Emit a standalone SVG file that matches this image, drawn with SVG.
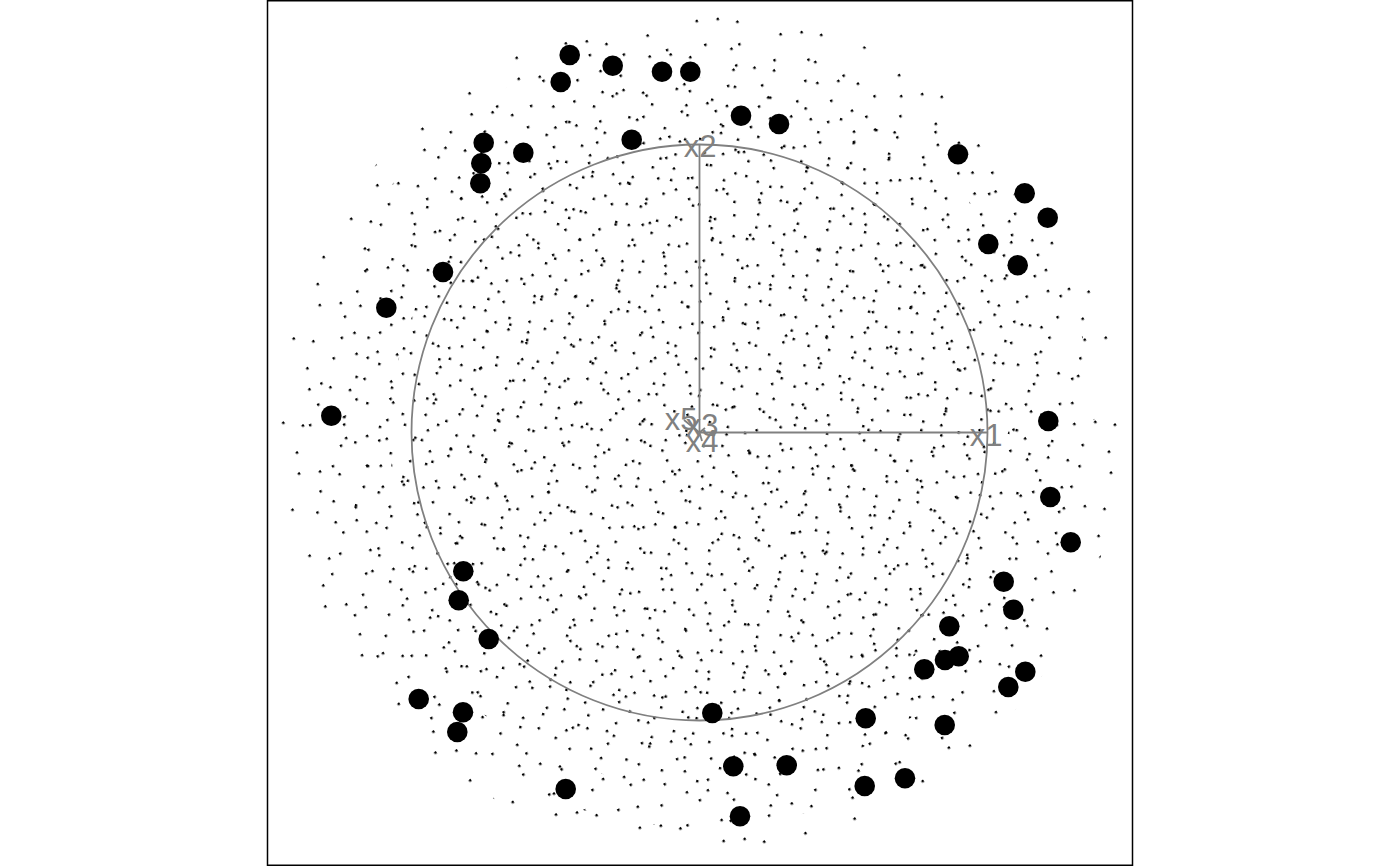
<svg xmlns="http://www.w3.org/2000/svg" width="1400" height="866" viewBox="0 0 1400 866">
<style>
.ax{stroke:#808080;stroke-width:1.8;fill:none}
.lb{font-family:"Liberation Sans",Arial,sans-serif;font-size:31px;fill:#808080;text-anchor:middle}
.big{fill:#000}
</style>
<defs>
<pattern id="pA" width="37" height="41" patternUnits="userSpaceOnUse" patternTransform="rotate(17)">
<rect x="6" y="9" width="2.4" height="2.4"/><rect x="24" y="31" width="2.4" height="2.4"/>
</pattern>
<pattern id="pB" width="53" height="47" patternUnits="userSpaceOnUse" patternTransform="rotate(-29)">
<rect x="11" y="4" width="2.4" height="2.4"/><rect x="41" y="20" width="2.4" height="2.4"/><rect x="28" y="37" width="2.4" height="2.4"/>
</pattern>
<pattern id="pC" width="61" height="59" patternUnits="userSpaceOnUse" patternTransform="rotate(53)">
<rect x="8" y="45" width="2.4" height="2.4"/><rect x="33" y="13" width="2.4" height="2.4"/><rect x="51" y="34" width="2.4" height="2.4"/><rect x="19" y="27" width="2.4" height="2.4"/>
</pattern>
<pattern id="pD" width="43" height="67" patternUnits="userSpaceOnUse" patternTransform="rotate(-71)">
<rect x="4" y="22" width="2.4" height="2.4"/><rect x="30" y="51" width="2.4" height="2.4"/><rect x="21" y="5" width="2.4" height="2.4"/>
</pattern>
</defs>
<rect x="0" y="0" width="1400" height="866" fill="#fff"/>
<g id="frame"><rect x="267.5" y="0.75" width="865" height="864.5" fill="none" stroke="#000" stroke-width="1.5"/></g>
<g id="small-points">
<circle cx="699.5" cy="432.5" r="420" fill="url(#pC)"/>
<circle cx="699.5" cy="432.5" r="395" fill="url(#pB)"/>
<circle cx="699.5" cy="432.5" r="355" fill="url(#pA)"/>
<circle cx="699.5" cy="432.5" r="310" fill="url(#pD)"/>
</g>
<g id="connectors">
<circle class="ax" cx="699.5" cy="432.5" r="288"/>
<line class="ax" x1="699.5" y1="432.5" x2="987.5" y2="432.5"/>
<line class="ax" x1="699.5" y1="432.5" x2="699.5" y2="145"/>
<line class="ax" x1="699.5" y1="432.5" x2="684" y2="420"/>
<line class="ax" x1="699.5" y1="432.5" x2="705" y2="428"/>
<line class="ax" x1="699.5" y1="432.5" x2="702" y2="441"/>
</g>
<g id="labels">
<text class="lb" x="986" y="445.5">x1</text>
<text class="lb" x="700" y="156.5">x2</text>
<text class="lb" x="702" y="435.5">x3</text>
<text class="lb" x="702" y="452">x4</text>
<text class="lb" x="681" y="429.5">x5</text>
</g>
<g id="big-points">
<circle class="big" r="10.3" cx="569.7" cy="55"/>
<circle class="big" r="10.3" cx="612.7" cy="65.7"/>
<circle class="big" r="10.3" cx="560.7" cy="82"/>
<circle class="big" r="10.3" cx="662" cy="71.7"/>
<circle class="big" r="10.3" cx="690.3" cy="71.7"/>
<circle class="big" r="10.3" cx="631.7" cy="139.7"/>
<circle class="big" r="10.3" cx="483.7" cy="142.7"/>
<circle class="big" r="10.3" cx="523.3" cy="152.7"/>
<circle class="big" r="10.3" cx="481.3" cy="163.3"/>
<circle class="big" r="10.3" cx="480.3" cy="183.3"/>
<circle class="big" r="10.3" cx="443" cy="272"/>
<circle class="big" r="10.3" cx="386.3" cy="307.7"/>
<circle class="big" r="10.3" cx="331.3" cy="415.7"/>
<circle class="big" r="10.3" cx="741" cy="115.7"/>
<circle class="big" r="10.3" cx="779" cy="124"/>
<circle class="big" r="10.3" cx="958" cy="154.3"/>
<circle class="big" r="10.3" cx="1024.7" cy="193.3"/>
<circle class="big" r="10.3" cx="1047.7" cy="217.7"/>
<circle class="big" r="10.3" cx="988.3" cy="244"/>
<circle class="big" r="10.3" cx="1017.7" cy="265.3"/>
<circle class="big" r="10.3" cx="1048.3" cy="421"/>
<circle class="big" r="10.3" cx="1050.3" cy="497"/>
<circle class="big" r="10.3" cx="1070.7" cy="542.3"/>
<circle class="big" r="10.3" cx="1003.7" cy="581.7"/>
<circle class="big" r="10.3" cx="1013.3" cy="609.7"/>
<circle class="big" r="10.3" cx="949.3" cy="626.3"/>
<circle class="big" r="10.3" cx="958.7" cy="656.3"/>
<circle class="big" r="10.3" cx="945" cy="660"/>
<circle class="big" r="10.3" cx="924.3" cy="669.3"/>
<circle class="big" r="10.3" cx="1025.3" cy="671.7"/>
<circle class="big" r="10.3" cx="1008.3" cy="687"/>
<circle class="big" r="10.3" cx="712.3" cy="713"/>
<circle class="big" r="10.3" cx="865.7" cy="718.3"/>
<circle class="big" r="10.3" cx="944.7" cy="725"/>
<circle class="big" r="10.3" cx="733.3" cy="766.3"/>
<circle class="big" r="10.3" cx="786.7" cy="765.3"/>
<circle class="big" r="10.3" cx="864.7" cy="786"/>
<circle class="big" r="10.3" cx="905" cy="778.3"/>
<circle class="big" r="10.3" cx="740" cy="816.3"/>
<circle class="big" r="10.3" cx="463.3" cy="571.3"/>
<circle class="big" r="10.3" cx="458.7" cy="600.3"/>
<circle class="big" r="10.3" cx="488.7" cy="639"/>
<circle class="big" r="10.3" cx="418.7" cy="699"/>
<circle class="big" r="10.3" cx="463" cy="712.3"/>
<circle class="big" r="10.3" cx="457.3" cy="732"/>
<circle class="big" r="10.3" cx="565.7" cy="789"/>
</g>
</svg>
